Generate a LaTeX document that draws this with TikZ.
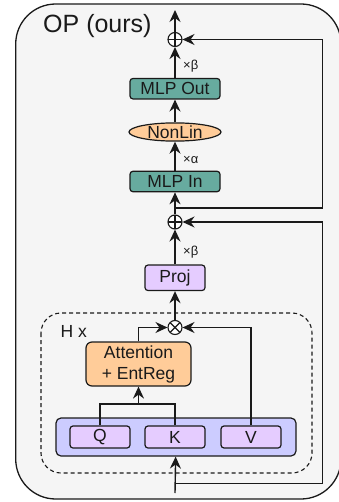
\documentclass[tikz,border=0pt]{standalone}
\usepackage{fontspec}
\setmainfont{Liberation Sans}
\usetikzlibrary{arrows.meta,shapes.geometric}
\definecolor{ink}{HTML}{1A1A1A}
\definecolor{outerfill}{HTML}{F5F5F5}
\definecolor{teal}{HTML}{67AB9F}
\definecolor{orangef}{HTML}{FFCC99}
\definecolor{purplef}{HTML}{E5CCFF}
\definecolor{bluef}{HTML}{CCCCFF}
\tikzset{
  ln/.style={draw=ink, line width=1.4pt},
  arr/.style={ln, -{Stealth[length=12pt,width=11pt,inset=4pt]}},
  boxstyle/.style={draw=ink, line width=1.2pt, rounded corners=3pt, inner sep=0pt,
     text=ink, font=\fontsize{17.5}{21}\selectfont, align=center},
  tealbox/.style={boxstyle, fill=teal, minimum width=90pt, minimum height=20.5pt},
  purpbox/.style={boxstyle, fill=purplef, minimum width=60pt, minimum height=22pt},
  oplus/.style={circle, draw=ink, line width=1.1pt, fill=white, minimum size=14pt, inner sep=0pt,
     path picture={\draw[ink, line width=1.1pt] (path picture bounding box.north) -- (path picture bounding box.south)
        (path picture bounding box.west) -- (path picture bounding box.east);}},
  otimes/.style={circle, draw=ink, line width=1.1pt, fill=white, minimum size=14pt, inner sep=0pt,
     path picture={\draw[ink, line width=1.1pt] (path picture bounding box.north west) -- (path picture bounding box.south east)
        (path picture bounding box.south west) -- (path picture bounding box.north east);}},
  lbl/.style={text=ink, inner sep=0pt, anchor=west},
}
\begin{document}
\begin{tikzpicture}[x=1pt,y=-1pt]
\useasboundingbox (0,0) rectangle (339,502);
% outer container
\draw[draw=ink, line width=1.3pt, fill=outerfill, rounded corners=40pt] (15.7,4) rectangle (341,499);
\node[lbl, font=\fontsize{25}{30}\selectfont] (title) at (43,26) {OP (ours)};
% dashed head block
\draw[draw=ink, line width=1.1pt, dash pattern=on 4pt off 3pt, rounded corners=20pt] (41,313) rectangle (312,473);
\node[lbl, font=\fontsize{17.5}{21}\selectfont] (hx) at (60.5,331) {H x};

% nodes
\coordinate (top) at (175,10);
\node[oplus] (p1) at (175,39.5) {};
\node[tealbox] (mlpout) at (175,88.7) {MLP Out};
\node[ellipse, draw=ink, line width=1.2pt, fill=orangef, minimum width=92pt, minimum height=18pt, inner sep=0pt,
      text=ink, font=\fontsize{17.5}{21}\selectfont] (nonlin) at (175,132) {NonLin};
\node[tealbox] (mlpin) at (175,181.5) {MLP In};
\node[oplus] (p2) at (175,222) {};
\node[purpbox, minimum height=25.5pt] (proj) at (175,277.8) {Proj};
\node[otimes] (t1) at (175,327.5) {};
\node[boxstyle, fill=orangef, minimum width=105pt, minimum height=44pt, rounded corners=6pt] (att) at (138.5,364) {Attention\\+ EntReg};
\node[boxstyle, fill=bluef, minimum width=240pt, minimum height=38pt, rounded corners=5pt] (qkv) at (176,437) {};
\node[purpbox] (q) at (100,437) {Q};
\node[purpbox] (k) at (175,437) {K};
\node[purpbox] (v) at (251,437) {V};

% scale labels
\node[lbl, font=\fontsize{13}{15}\selectfont] (b1) at (183,66) {×β};
\node[lbl, font=\fontsize{13}{15}\selectfont] (a1) at (183,160) {×α};
\node[lbl, font=\fontsize{13}{15}\selectfont] (b2) at (183,252) {×β};

% coordinates for routing
\coordinate (j1) at (175,208);
\coordinate (r1) at (322.5,208);
\coordinate (in) at (175,493);
\coordinate (j2) at (175,483.3);
\coordinate (r2) at (322.5,483.3);
\coordinate (qk) at (138.5,404);
\coordinate (qt) at (100,404);
\coordinate (kt) at (175,404);

% main path
\draw[arr] (p1) -- (top);
\draw[arr] (mlpout) -- (p1);
\draw[arr] (nonlin) -- (mlpout);
\draw[arr] (mlpin) -- (nonlin);
\draw[arr] (p2) -- (mlpin);
\draw[arr] (proj) -- (p2);
\draw[arr] (t1) -- (proj);
\draw[arr] (in) -- (qkv);
% residuals
\draw[arr] (j1) -- (r1) |- (p1.east);
\draw[arr] (j2) -- (r2) |- (p2.east);
% attention wiring
\draw[ln] (q.north) -- (qt) -- (kt) -- (k.north);
\draw[arr] (qk) -- (att.south);
\draw[arr] (att.north) |- (t1.west);
\draw[arr] (v.north) |- (t1.east);
\end{tikzpicture}
\end{document}
